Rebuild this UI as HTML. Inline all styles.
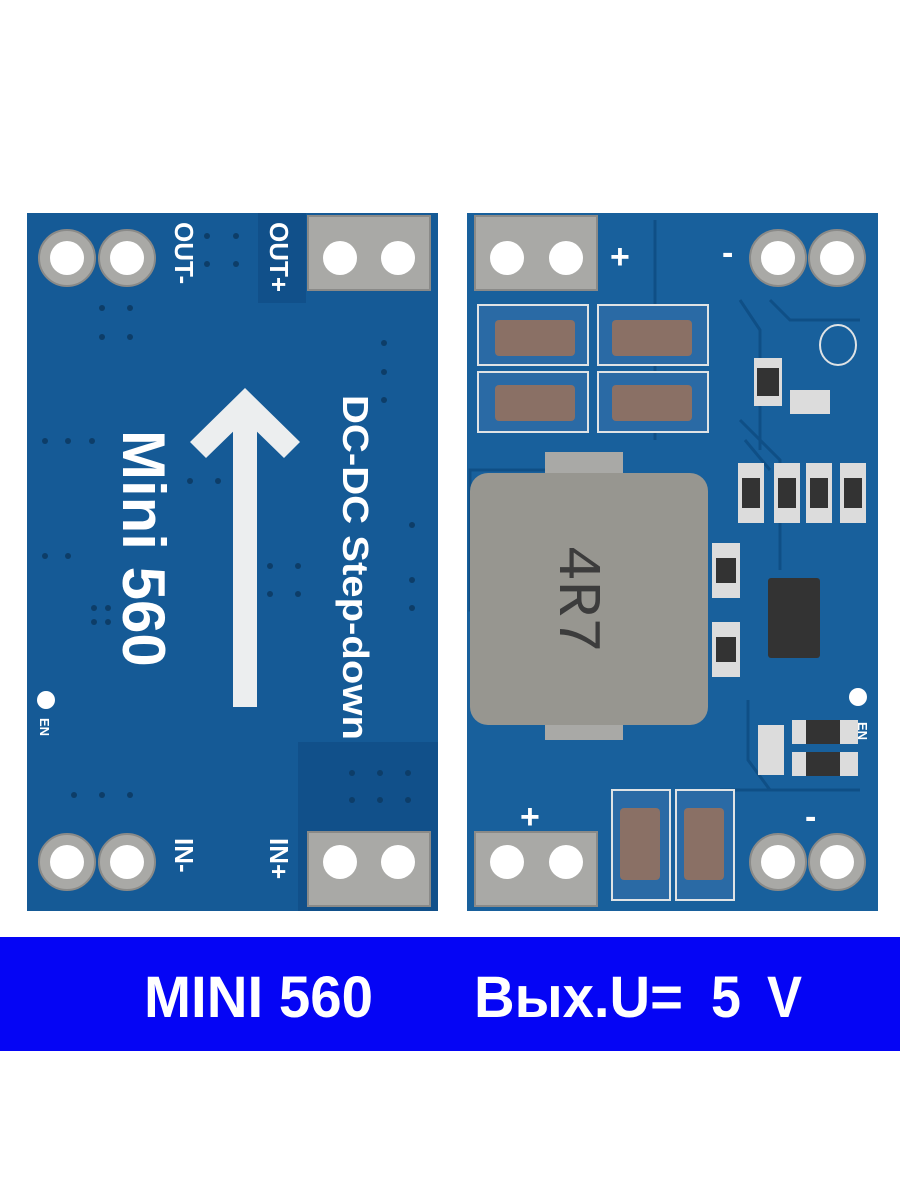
<!DOCTYPE html>
<html><head><meta charset="utf-8"><style>
html,body{margin:0;padding:0;background:#fff;width:900px;height:1200px;overflow:hidden}
svg{display:block}
</style></head><body>
<svg width="900" height="1200" viewBox="0 0 900 1200" xmlns="http://www.w3.org/2000/svg" font-family="Liberation Sans, DejaVu Sans, sans-serif">
<rect width="900" height="1200" fill="#fff"/>
<!-- LEFT BOARD -->
<rect x="27" y="213" width="411" height="698" fill="#155a96"/>
<rect x="258" y="213" width="48" height="90" fill="#11508a"/>
<rect x="298" y="742" width="140" height="169" fill="#11508a"/>
<g fill="#a9a9a6" stroke="#8a8a88" stroke-width="2">
<circle cx="67" cy="258" r="28"/><circle cx="127" cy="258" r="28"/>
<rect x="308" y="216" width="122" height="74"/>
<circle cx="67" cy="862" r="28"/><circle cx="127" cy="862" r="28"/>
<rect x="308" y="832" width="122" height="74"/>
</g>
<g fill="#fff">
<circle cx="67" cy="258" r="17"/><circle cx="127" cy="258" r="17"/>
<circle cx="340" cy="258" r="17"/><circle cx="398" cy="258" r="17"/>
<circle cx="67" cy="862" r="17"/><circle cx="127" cy="862" r="17"/>
<circle cx="340" cy="862" r="17"/><circle cx="398" cy="862" r="17"/>
<circle cx="46" cy="700" r="9"/>
</g>
<g fill="#eceeef">
<rect x="233" y="420" width="24" height="287"/>
<polygon points="245,388 300,442 284,458 245,420 206,458 190,442"/>
</g>
<g fill="#fff" font-weight="bold">
<text transform="translate(123,430) rotate(90)" font-size="60">Mini 560</text>
<text transform="translate(343,395) rotate(90)" font-size="36" textLength="345" lengthAdjust="spacingAndGlyphs">DC-DC Step-down</text>
<text transform="translate(175,222) rotate(90)" font-size="26">OUT-</text>
<text transform="translate(270,222) rotate(90)" font-size="26">OUT+</text>
<text transform="translate(175,838) rotate(90)" font-size="26">IN-</text>
<text transform="translate(270,838) rotate(90)" font-size="26">IN+</text>
<text transform="translate(40,718) rotate(90)" font-size="13">EN</text>
</g>
<g fill="#0d3d68">
<circle cx="207" cy="236" r="3"/><circle cx="236" cy="236" r="3"/><circle cx="207" cy="264" r="3"/><circle cx="236" cy="264" r="3"/>
<circle cx="102" cy="308" r="3"/><circle cx="130" cy="308" r="3"/><circle cx="102" cy="337" r="3"/><circle cx="130" cy="337" r="3"/>
<circle cx="384" cy="343" r="3"/><circle cx="384" cy="372" r="3"/><circle cx="384" cy="400" r="3"/>
<circle cx="45" cy="441" r="3"/><circle cx="68" cy="441" r="3"/><circle cx="92" cy="441" r="3"/>
<circle cx="190" cy="481" r="3"/><circle cx="218" cy="481" r="3"/>
<circle cx="412" cy="525" r="3"/><circle cx="412" cy="580" r="3"/><circle cx="412" cy="608" r="3"/>
<circle cx="45" cy="556" r="3"/><circle cx="68" cy="556" r="3"/>
<circle cx="270" cy="566" r="3"/><circle cx="298" cy="566" r="3"/><circle cx="270" cy="594" r="3"/><circle cx="298" cy="594" r="3"/>
<circle cx="94" cy="608" r="3"/><circle cx="108" cy="608" r="3"/><circle cx="94" cy="622" r="3"/><circle cx="108" cy="622" r="3"/>
<circle cx="352" cy="773" r="3"/><circle cx="380" cy="773" r="3"/><circle cx="408" cy="773" r="3"/>
<circle cx="352" cy="800" r="3"/><circle cx="380" cy="800" r="3"/><circle cx="408" cy="800" r="3"/>
<circle cx="74" cy="795" r="3"/><circle cx="102" cy="795" r="3"/><circle cx="130" cy="795" r="3"/>
</g>
<!-- RIGHT BOARD -->
<rect x="467" y="213" width="411" height="698" fill="#18609c"/>
<g fill="none" stroke="#0f4f86" stroke-width="3">
<path d="M655 220 V440 M740 300 L760 330 V450 M770 300 L790 320 H860 M745 440 L770 470 M740 420 L780 460 V570 M748 700 V760 L770 790 H860 M720 790 H790"/>
<rect x="470" y="470" width="125" height="140"/>
</g>
<g fill="#a9a9a6" stroke="#8a8a88" stroke-width="2">
<rect x="475" y="216" width="122" height="74"/>
<circle cx="778" cy="258" r="28"/><circle cx="837" cy="258" r="28"/>
<rect x="475" y="832" width="122" height="74"/>
<circle cx="778" cy="862" r="28"/><circle cx="837" cy="862" r="28"/>
</g>
<g fill="#fff">
<circle cx="507" cy="258" r="17"/><circle cx="566" cy="258" r="17"/>
<circle cx="778" cy="258" r="17"/><circle cx="837" cy="258" r="17"/>
<circle cx="507" cy="862" r="17"/><circle cx="566" cy="862" r="17"/>
<circle cx="778" cy="862" r="17"/><circle cx="837" cy="862" r="17"/>
<circle cx="858" cy="697" r="9"/>
<text x="610" y="268" font-size="34" font-weight="bold">+</text>
<text x="722" y="264" font-size="34" font-weight="bold">-</text>
<text x="520" y="828" font-size="34" font-weight="bold">+</text>
<text x="805" y="828" font-size="34" font-weight="bold">-</text>
<text transform="translate(858,722) rotate(90)" font-size="13" font-weight="bold">EN</text>
</g>
<g fill="#b7bbbd" stroke="#dfe3e5" stroke-width="2">
<rect x="478" y="305" width="110" height="60" fill="#2a6aa5"/>
<rect x="598" y="305" width="110" height="60" fill="#2a6aa5"/>
<rect x="478" y="372" width="110" height="60" fill="#2a6aa5"/>
<rect x="598" y="372" width="110" height="60" fill="#2a6aa5"/>
<rect x="612" y="790" width="58" height="110" fill="#2a6aa5"/>
<rect x="676" y="790" width="58" height="110" fill="#2a6aa5"/>
</g>
<g fill="#8a7065">
<rect x="495" y="320" width="80" height="36" rx="4"/>
<rect x="612" y="320" width="80" height="36" rx="4"/>
<rect x="495" y="385" width="80" height="36" rx="4"/>
<rect x="612" y="385" width="80" height="36" rx="4"/>
<rect x="620" y="808" width="40" height="72" rx="4"/>
<rect x="684" y="808" width="40" height="72" rx="4"/>
</g>
<rect x="545" y="452" width="78" height="30" fill="#a9a9a6"/>
<rect x="545" y="715" width="78" height="25" fill="#a9a9a6"/>
<rect x="470" y="473" width="238" height="252" rx="18" fill="#979690"/>
<text transform="translate(560,545) rotate(90)" font-size="60" fill="#3c3c3c" font-family="Liberation Mono, monospace">4R7</text>
<g fill="#dcdcdc">
<rect x="738" y="463" width="26" height="60"/><rect x="774" y="463" width="26" height="60"/>
<rect x="806" y="463" width="26" height="60"/><rect x="840" y="463" width="26" height="60"/>
<rect x="712" y="543" width="28" height="55"/><rect x="712" y="622" width="28" height="55"/>
<rect x="754" y="358" width="28" height="48"/><rect x="790" y="390" width="40" height="24"/>
<rect x="792" y="720" width="66" height="24"/><rect x="792" y="752" width="66" height="24"/>
<rect x="758" y="725" width="26" height="50"/>
</g>
<g fill="#333">
<rect x="742" y="478" width="18" height="30"/><rect x="778" y="478" width="18" height="30"/>
<rect x="810" y="478" width="18" height="30"/><rect x="844" y="478" width="18" height="30"/>
<rect x="716" y="558" width="20" height="25"/><rect x="716" y="637" width="20" height="25"/>
<rect x="757" y="368" width="22" height="28"/><rect x="806" y="720" width="34" height="24"/><rect x="806" y="752" width="34" height="24"/>
<rect x="768" y="578" width="52" height="80" rx="3"/>
</g>
<ellipse cx="838" cy="345" rx="18" ry="20" fill="none" stroke="#dfe3e5" stroke-width="2"/>
<!-- BANNER -->
<rect x="0" y="937" width="900" height="114" fill="#0505f5"/>
<g fill="#fff" font-weight="bold" font-size="58">
<text x="144" y="1017" textLength="229" lengthAdjust="spacingAndGlyphs">MINI 560</text>
<text x="474" y="1017" textLength="209" lengthAdjust="spacingAndGlyphs">Вых.U=</text>
<text x="711" y="1017" textLength="30" lengthAdjust="spacingAndGlyphs">5</text>
<text x="767" y="1017" textLength="35" lengthAdjust="spacingAndGlyphs">V</text>
</g>
</svg>
</body></html>
